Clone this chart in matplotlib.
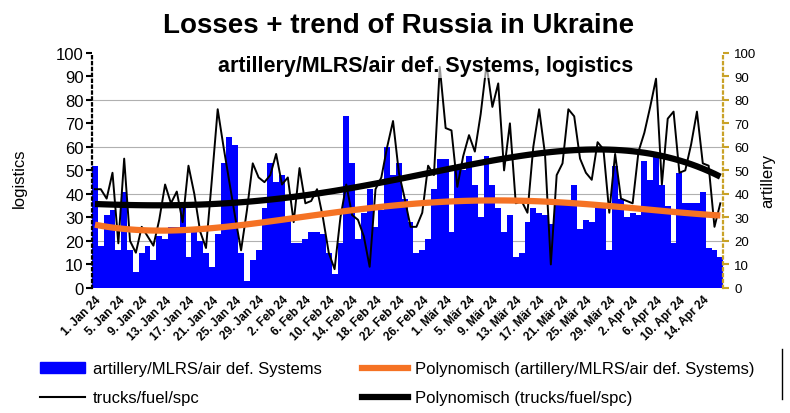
import matplotlib.pyplot as plt
import numpy as np
import pandas as pd
from matplotlib.patches import Patch
from matplotlib.lines import Line2D

plt.rcParams['font.family'] = ['Liberation Sans', 'DejaVu Sans']

# daily losses, 1 Jan 24 - 17 Apr 24
artillery = [52, 18, 31, 33, 16, 41, 16, 7, 15, 18,
             12, 22, 21, 26, 26, 36, 13, 24, 20, 15,
             9, 23, 53, 64, 61, 15, 3, 12, 16, 34,
             53, 45, 48, 30, 19, 19, 21, 24, 24, 23,
             15, 6, 19, 73, 53, 21, 32, 42, 26, 33,
             60, 48, 53, 38, 28, 15, 16, 21, 42, 55,
             55, 24, 50, 50, 56, 44, 30, 56, 44, 34,
             24, 31, 13, 15, 28, 34, 32, 31, 27, 36,
             36, 36, 44, 25, 29, 28, 36, 36, 16, 52,
             38, 30, 32, 31, 54, 46, 57, 44, 35, 19,
             49, 36, 36, 36, 41, 17, 16, 13]
trucks = [42, 42, 38, 49, 19, 55, 20, 15, 26, 22,
          18, 29, 44, 36, 41, 28, 52, 40, 24, 17,
          46, 76, 60, 45, 30, 16, 33, 53, 47, 45,
          48, 57, 44, 47, 28, 51, 36, 37, 42, 30,
          15, 8, 30, 44, 31, 29, 22, 9, 42, 47,
          60, 71, 49, 38, 26, 26, 32, 52, 48, 94,
          68, 67, 43, 56, 65, 58, 74, 95, 77, 87,
          50, 70, 36, 37, 32, 60, 76, 57, 10, 48,
          53, 76, 73, 55, 49, 46, 62, 59, 32, 57,
          38, 37, 36, 58, 66, 77, 89, 44, 72, 75,
          49, 50, 61, 75, 53, 52, 26, 36]

days = pd.date_range('2024-01-01', periods=len(artillery), freq='D')
month_de = {1: 'Jan', 2: 'Feb', 3: 'Mär', 4: 'Apr'}
day_labels = [f"{d.day}. {month_de[d.month]} 24" for d in days]

x = np.arange(len(days))
# polynomial trend lines (like the spreadsheet's "Polynomisch")
art_trend = np.polyval(np.polyfit(x, artillery, 4), x)
trk_trend = np.polyval(np.polyfit(x, trucks, 4), x)

blue = '#0000ff'
orange = '#f57224'
gold = '#c9a227'

fig = plt.figure(figsize=(7.9, 4.14), dpi=100)
ax = fig.add_axes([0.1165, 0.302, 0.799, 0.568])
ax2 = ax.twinx()

for g in (20, 40, 60, 80):
    ax.axhline(g, color='#b0b0b0', lw=0.8, zorder=0)

ax.bar(x, artillery, width=1.0, color=blue, zorder=1)
ax.plot(x, trucks, color='black', lw=1.4, zorder=2)
ax.plot(x, art_trend, color=orange, lw=4.5, zorder=3, solid_capstyle='butt')
ax.plot(x, trk_trend, color='black', lw=4.5, zorder=4, solid_capstyle='butt')

for a in (ax, ax2):
    a.set_xlim(-0.5, len(x) - 0.5)
    a.set_ylim(0, 100)
    a.set_yticks(range(0, 101, 10))
    for s in ('top', 'bottom'):
        a.spines[s].set_visible(False)

ax.spines['right'].set_visible(False)
ax.spines['left'].set_linestyle(':')
ax.spines['left'].set_linewidth(1.6)
ax2.spines['left'].set_visible(False)
ax2.spines['right'].set_linestyle(':')
ax2.spines['right'].set_linewidth(1.6)
ax2.spines['right'].set_color(gold)

ax.tick_params(axis='y', length=4, width=1.5, pad=2, labelsize=12)
ax2.tick_params(axis='y', length=4, width=1.5, pad=4, labelsize=9.5, color=gold)

ax.set_xticks(x[::4])
ax.set_xticklabels(day_labels[::4], rotation=45, ha='right', va='top',
                   rotation_mode='anchor', fontsize=8.5, fontweight='bold')
ax.tick_params(axis='x', length=0, pad=4)

fig.text(0.504, 0.937, 'Losses + trend of Russia in Ukraine', ha='center',
         va='center', fontsize=20, fontweight='bold')
ax.text(0.528, 0.945, 'artillery/MLRS/air def. Systems, logistics',
        transform=ax.transAxes, ha='center', va='center', fontsize=15.5,
        fontweight='bold', zorder=6,
        bbox=dict(facecolor='white', alpha=0.6, edgecolor='none', pad=1))
fig.text(0.025, 0.57, 'logistics', rotation=90, ha='center', va='center', fontsize=12)
fig.text(0.972, 0.563, 'artillery', rotation=90, ha='center', va='center', fontsize=12)

handles = [Patch(color=blue),
           Line2D([], [], color='black', lw=1.5),
           Line2D([], [], color=orange, lw=4.5),
           Line2D([], [], color='black', lw=4.5)]
names = ['artillery/MLRS/air def. Systems', 'trucks/fuel/spc',
         'Polynomisch (artillery/MLRS/air def. Systems)',
         'Polynomisch (trucks/fuel/spc)']
fig.legend(handles, names, loc='upper left', bbox_to_anchor=(0.05, 0.125),
           ncol=2, frameon=False, fontsize=12, handlelength=2.75,
           handleheight=0.6, handletextpad=0.45, columnspacing=2.4,
           labelspacing=0.85, borderpad=0, borderaxespad=0)

fig.add_artist(Line2D([782 / 790] * 2, [1 - 350 / 414, 1 - 400 / 414],
                      color='black', lw=1))

fig.savefig('out.png', dpi=100)
